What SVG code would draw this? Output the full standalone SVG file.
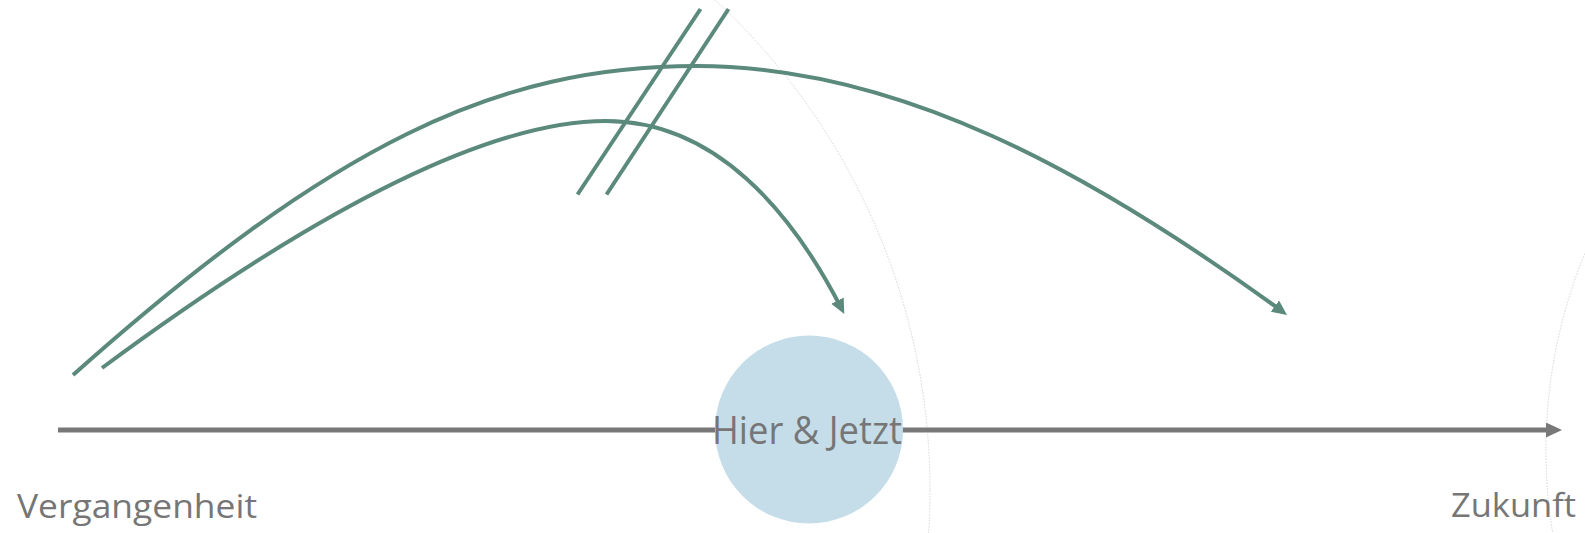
<svg xmlns="http://www.w3.org/2000/svg" width="1585" height="533" viewBox="0 0 1585 533">
  <style>
    .guide { fill: none; stroke: #d4d4d4; stroke-width: 1; stroke-dasharray: 1.5 1.5; }
    .flow { fill: none; stroke: #5b8a7d; stroke-width: 4; }
    .strike { stroke: #5b8a7d; stroke-width: 4; stroke-linecap: butt; }
    .axis { stroke: #787878; stroke-width: 5; fill: none; }
    .label { font-family: "Open Sans", "Noto Sans", sans-serif; fill: #767676; }
  </style>
  <defs>
    <marker id="greenArrow" markerUnits="userSpaceOnUse" markerWidth="16" markerHeight="15" refX="10" refY="7" orient="auto">
      <path d="M0,0 L15,7 L0,14 z" fill="#5b8a7d"/>
    </marker>
    <marker id="grayArrow" markerUnits="userSpaceOnUse" markerWidth="17" markerHeight="16" refX="6" refY="7.5" orient="auto">
      <path d="M0,0 L16,7.5 L0,15 z" fill="#787878"/>
    </marker>
  </defs>

  <g id="guides">
    <circle class="guide" cx="264" cy="490" r="666"/>
    <circle class="guide" cx="2063" cy="450" r="517"/>
  </g>

  <g id="connectors">
    <line class="axis" x1="58" y1="430" x2="1552" y2="430" marker-end="url(#grayArrow)"/>
    <path class="flow" d="M73,375 C333,143.6 497,66 697,66 C897,66 1089,170.6 1283,312" marker-end="url(#greenArrow)"/>
    <path class="flow" d="M102,368 C325,203 493,121 606,121 C716,121 792,212 842,309.5" marker-end="url(#greenArrow)"/>
    <line class="strike" x1="577.5" y1="194.5" x2="700.5" y2="9"/>
    <line class="strike" x1="606.5" y1="194.5" x2="728.5" y2="9"/>
  </g>

  <g id="now">
    <circle cx="809" cy="429.5" r="94" fill="#c5dde8"/>
    <text class="label" x="807" y="444" font-size="39" text-anchor="middle" textLength="190" lengthAdjust="spacingAndGlyphs">Hier &amp; Jetzt</text>
  </g>

  <g id="past">
    <text class="label" x="17" y="518" font-size="33" textLength="240" lengthAdjust="spacingAndGlyphs">Vergangenheit</text>
  </g>

  <g id="future">
    <text class="label" x="1451" y="517" font-size="33" textLength="125" lengthAdjust="spacingAndGlyphs">Zukunft</text>
  </g>
</svg>
